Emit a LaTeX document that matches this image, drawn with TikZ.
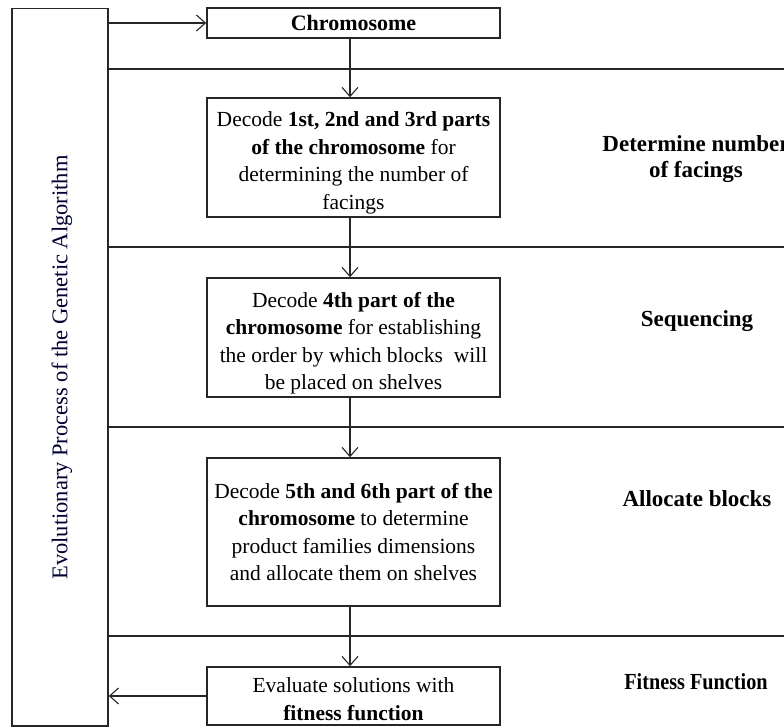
\documentclass[tikz,border=0pt]{standalone}
\usepackage{fontspec}
\setmainfont{Liberation Serif}
\usetikzlibrary{arrows.meta}

% invisible strut that lowers a centred text block a little
\newcommand{\lowerby}[1]{\rule{0pt}{\dimexpr 19pt+2\dimexpr #1\relax\relax}}

\tikzset{
  every picture/.style={x=1pt,y=-1pt},
  line/.style={line width=1.4pt,draw=black!85},
  flow/.style={line width=1.2pt,draw=black!85,-{Straight Barb[length=9pt,width=16pt,line width=1.1pt]}},
  stepbox/.style={draw=black!85,line width=1.6pt,minimum width=293pt,inner sep=0pt,
    align=center,font=\fontsize{21.5}{27.5}\selectfont},
  phase/.style={align=center,font=\fontsize{23}{26}\selectfont\bfseries},
}

\begin{document}
\begin{tikzpicture}
  \useasboundingbox (0,0) rectangle (784,727);
  \clip (0,0) rectangle (784,727);

  % left column: the evolutionary loop
  \node[draw=black!85,line width=1.6pt,minimum width=96pt,minimum height=717.5pt,inner sep=0pt]
    (ga) at (60,367.2) {};
  \node[rotate=90,font=\fontsize{22.5}{24}\selectfont,text=black!80!blue] (galabel) at (62,367.5)
    {Evolutionary Process of the Genetic Algorithm};

  % decoding steps
  \node[stepbox,minimum height=30pt,font=\fontsize{22}{24}\selectfont] (chrom) at (353.5,23) {\bfseries Chromosome};
  \node[stepbox,minimum height=119pt] (dec1) at (353.5,157.5)
    {\lowerby{3.5pt}Decode \textbf{1st, 2nd and 3rd parts}\\ \textbf{of the chromosome} for\\ determining the number of\\ facings};
  \node[stepbox,minimum height=119pt] (dec2) at (353.5,337.5)
    {\lowerby{4pt}Decode \textbf{4th part of the}\\ \textbf{chromosome} for establishing\\ the order by which blocks\ \ will\\ be placed on shelves};
  \node[stepbox,minimum height=148pt] (dec3) at (353.5,532)
    {Decode \textbf{5th and 6th part of the}\\ \textbf{chromosome} to determine\\ product families dimensions\\ and allocate them on shelves};
  \node[stepbox,minimum height=58pt] (fit) at (353.5,696)
    {\lowerby{1pt}Evaluate solutions with\\ \textbf{fitness function}};

  % phase names
  \node[phase] (ph1) at (696,159) {Determine number\\ of facings};
  \node[phase] (ph2) at (697,321) {Sequencing};
  \node[phase] (ph3) at (697,499) {Allocate blocks};
  \node[phase] (ph4) at (696,682) {\scalebox{0.88}[1]{Fitness Function}};

  % phase separators
  \coordinate (edge) at (790,0);
  \foreach \yy/\nm in {69/s1,247/s2,427/s3,636/s4}{
    \coordinate (\nm) at (0,\yy);
    \draw[line] (ga.east |- \nm) -- (edge |- \nm);
  }

  % flow of the decoding
  \coordinate (ax) at (350,0);
  \draw[flow] (ga.east |- chrom) -- (chrom.west);
  \draw[flow] (chrom.south -| ax) -- (dec1.north -| ax);
  \draw[flow] (dec1.south -| ax) -- (dec2.north -| ax);
  \draw[flow] (dec2.south -| ax) -- (dec3.north -| ax);
  \draw[flow] (dec3.south -| ax) -- (fit.north -| ax);
  \draw[flow] (fit.west) -- (ga.east |- fit);
\end{tikzpicture}
\end{document}
